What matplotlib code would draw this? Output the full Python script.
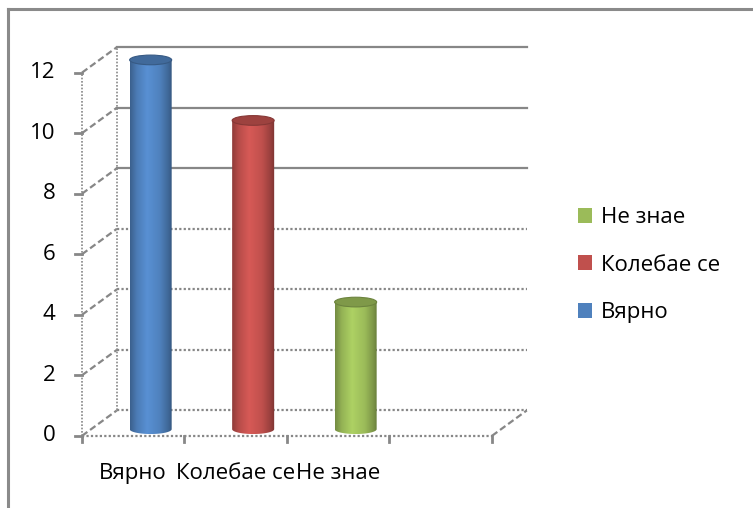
import numpy as np
import matplotlib
matplotlib.use('Agg')
import matplotlib.pyplot as plt
from matplotlib.patches import PathPatch, Ellipse, Patch
from matplotlib.path import Path
from matplotlib.lines import Line2D
from matplotlib.colors import to_rgb

plt.rcParams['font.family'] = ['Open Sans', 'DejaVu Sans']

# data
categories = ['Вярно', 'Колебае се', 'Не знае']
values = [12, 10, 4]
colors = ['#4F81BD', '#C0504D', '#9BBB59']
y_ticks = [0, 2, 4, 6, 8, 10, 12]

# 3d look: shift of the back wall in data units
DX, DY = 0.34, 0.84
GRID = '#878787'
FS = 16

fig = plt.figure(figsize=(7.53, 5.08), dpi=100)
ax = fig.add_axes([0, 0.005, 0.735, 0.998])
ax.set_xlim(-0.8, 4.6)
ax.set_ylim(-2.3, 14.45)
ax.axis('off')

n_slots = len(categories) + 1

# back wall gridlines (top ones solid, lower ones dotted like in the original)
for v in y_ticks:
    ls = '-' if v >= 8 else (0, (1, 1))
    ax.plot([DX, n_slots + DX], [v + DY, v + DY], color=GRID, lw=1.6, ls=ls, zorder=1)
    # slanted line on the left wall
    ax.plot([0, DX], [v, v + DY], color=GRID, lw=1.6, ls=(0, (3, 1.5)), zorder=1)
    # tick + label
    ax.plot([-0.07, 0], [v, v], color=GRID, lw=2, zorder=2)
    ax.text(-0.26, v, str(v), ha='right', va='center', fontsize=FS, color='black')

# left wall vertical edges
ax.plot([0, 0], [0, y_ticks[-1]], color=GRID, lw=1.2, ls=(0, (1, 1)), zorder=1)
ax.plot([DX, DX], [DY, y_ticks[-1] + DY], color=GRID, lw=1.2, ls=(0, (1, 1)), zorder=1)

# floor
ax.plot([0, n_slots], [0, 0], color=GRID, lw=1.6, ls=(0, (1, 1)), zorder=1)
ax.plot([n_slots, n_slots + DX], [0, DY], color=GRID, lw=1.6, ls=(0, (3, 1.5)), zorder=1)
for i in range(n_slots + 1):
    ax.plot([i, i], [0, -0.2], color=GRID, lw=2, zorder=2)

# category labels
for i, c in enumerate(categories):
    ax.text(i + 0.5, -1.25, c, ha='center', va='center', fontsize=FS, color='black')


def shade(base, f):
    r = np.array(to_rgb(base)) * f
    return np.clip(r, 0, 1)


# cylinders
bw = 0.41
eh = 0.16
for i, (v, col) in enumerate(zip(values, colors)):
    xc = i + 0.5 + DX / 2
    yb = DY / 2 - 0.2
    yt = v + DY / 2
    x0, x1 = xc - bw / 2, xc + bw / 2
    # horizontal gradient
    stops = np.array([0.0, 0.15, 0.4, 0.7, 0.9, 1.0])
    facs = np.array([0.75, 0.95, 1.12, 1.0, 0.8, 0.65])
    xs = np.linspace(0, 1, 64)
    f = np.interp(xs, stops, facs)
    img = np.array([shade(col, k) for k in f])[None, :, :]
    im = ax.imshow(img, extent=[x0, x1, yb - eh, yt], aspect='auto', zorder=3,
                   interpolation='bilinear')
    t = np.linspace(np.pi, 2 * np.pi, 40)
    bx = xc + bw / 2 * np.cos(t)
    by = yb + eh * np.sin(t)
    verts = list(zip(bx, by)) + [(x1, yt), (x0, yt), (bx[0], by[0])]
    clip = PathPatch(Path(verts), transform=ax.transData, facecolor='none', edgecolor='none')
    ax.add_patch(clip)
    im.set_clip_path(clip)
    ax.add_patch(Ellipse((xc, yt), bw, 2 * eh, facecolor=shade(col, 0.82),
                         edgecolor=shade(col, 0.7), lw=0.8, zorder=4))

# legend (reversed order like Excel)
handles = [Patch(facecolor=c, edgecolor='none') for c in colors]
fig.legend(handles[::-1], categories[::-1], loc='upper left',
           bbox_to_anchor=(558 / 753, 1 - 187 / 508), frameon=False, fontsize=FS,
           handlelength=0.65, handleheight=0.65, handletextpad=0.4, labelspacing=1.2)

# chart border (only top and left visible)
fig.add_artist(Line2D([8 / 753, 1], [1 - 9 / 508, 1 - 9 / 508], color='#8a8a8a', lw=2.2))
fig.add_artist(Line2D([8 / 753, 8 / 753], [0, 1 - 9 / 508], color='#8a8a8a', lw=2.2))

fig.savefig('out.png', dpi=100)
